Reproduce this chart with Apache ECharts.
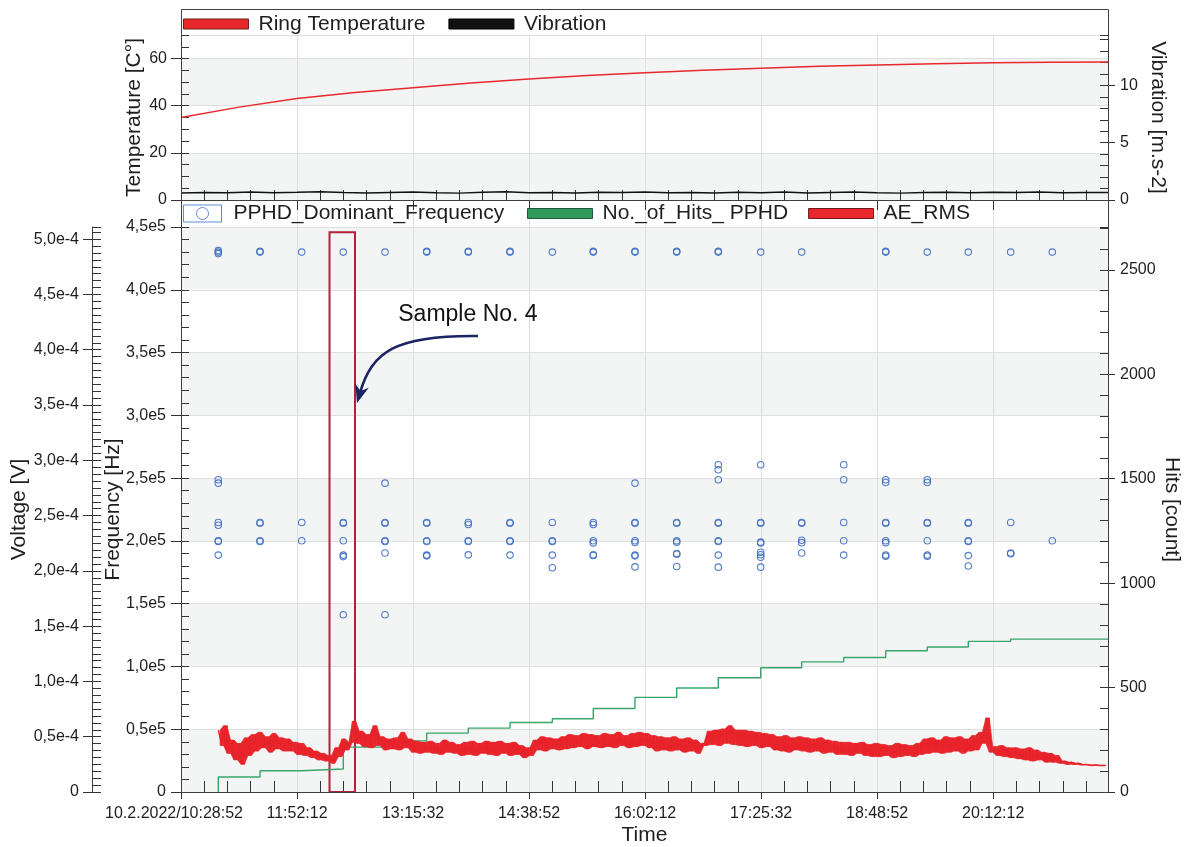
<!DOCTYPE html>
<html>
<head>
<meta charset="utf-8">
<script src="https://cdn.jsdelivr.net/npm/echarts@6/dist/echarts.min.js"></script>
<style>
html, body { margin: 0; padding: 0; background: #ffffff; }
#chart { width: 1190px; height: 847px; }
</style>
</head>
<body>
<div id="chart"></div>
<script>
// ---- data (time in seconds after 10.2.2022 10:28:52) ----
const timeTickLabelStart = '10.2.2022/10:28:52';

const temperatureTime = [0, 2500, 5000, 7500, 10000, 12500, 15000, 17500, 20000, 22500, 25000, 27500, 30000, 32500, 35000, 37500, 39950];
const temperatureValues = [35.0, 39.4, 43.1, 45.6, 47.6, 49.6, 51.3, 52.8, 54.0, 55.0, 55.9, 56.7, 57.3, 57.8, 58.2, 58.4, 58.5];

const vibrationTime = [0, 1000, 2000, 3000, 4000, 5000, 6000, 7000, 8000, 9000, 10000, 11000, 12000, 13000, 14000, 15000, 16000, 17000, 18000, 19000, 20000,
  21000, 22000, 23000, 24000, 25000, 26000, 27000, 28000, 29000, 30000, 31000, 32000, 33000, 34000, 35000, 36000, 37000, 38000, 39000, 39950];
const vibrationValues = [0.62, 0.66, 0.64, 0.70, 0.63, 0.67, 0.72, 0.65, 0.61, 0.66, 0.69, 0.64, 0.60, 0.67, 0.71, 0.63, 0.66, 0.62, 0.68, 0.65, 0.70,
  0.63, 0.66, 0.61, 0.67, 0.64, 0.69, 0.62, 0.66, 0.70, 0.64, 0.60, 0.66, 0.68, 0.63, 0.67, 0.65, 0.69, 0.64, 0.66, 0.65];

// PPHD dominant frequency: one column of hits per acquisition time
const freqColumnTime = [1607, 3405, 5202, 6994, 8792, 10589, 12381, 14179, 16002, 17768, 19565, 21363, 23155, 24983, 26750, 28560, 30370, 32162, 33929, 35756, 37549];
const freqColumnValues = [
  [430000, 431200, 428800, 248700, 246000, 214700, 212500, 200100, 199600, 188700],
  [430000, 430600, 214700, 214100, 200100, 199500],
  [430000, 214700, 200100],
  [430000, 214700, 214100, 200100, 188700, 187500, 141200],
  [430000, 246000, 214700, 214100, 200100, 199500, 190300, 141200],
  [430000, 430600, 214700, 214100, 200100, 199500, 188700, 188100],
  [430000, 430600, 214700, 213000, 200100, 199500, 188900],
  [430000, 430600, 214700, 214100, 200100, 199500, 188700],
  [430000, 214700, 200100, 199500, 188700, 178600],
  [430000, 430600, 214700, 213000, 200100, 198400, 189000, 188400],
  [430000, 430600, 246000, 214700, 214100, 200100, 198700, 188700, 188100, 179300],
  [430000, 430600, 214700, 214100, 200100, 199000, 190000, 189400, 179600],
  [430000, 430600, 260600, 256600, 248700, 214700, 214100, 200100, 199500, 188700, 179100],
  [430000, 260600, 214700, 214100, 199000, 198400, 191000, 189000, 187000, 179100],
  [430000, 214700, 214100, 200500, 198600, 190300],
  [260600, 248700, 214700, 200100, 188700],
  [430000, 430600, 248700, 246500, 214700, 214100, 200100, 198600, 188700, 187800],
  [430000, 248700, 246500, 214700, 214100, 200100, 188700, 187800],
  [430000, 214700, 214100, 200100, 199500, 188300, 180000],
  [430000, 214700, 190300, 189700],
  [430000, 200100]
];

// cumulative number of PPHD hits
const hitsTime = [1607, 1607, 3405, 5202, 6994, 8792, 10589, 12381, 14179, 16002, 17768, 19565, 21363, 23155, 24983, 26750, 28560, 30370, 32162, 33929, 35756, 39950];
const hitsCount = [0, 72, 102, 110, 215, 245, 282, 306, 333, 351, 400, 453, 498, 547, 595, 623, 644, 676, 694, 721, 732, 732];

// AE RMS in microvolts, sampled every aeStep seconds from aeStart
const aeStart = 1610;
const aeStep = 150;
const aeRmsMicroVolt = [
  56, 42, 60, 35, 47, 29, 44, 25, 49, 33,
  52, 37, 54, 40, 50, 36, 53, 39, 49, 37,
  48, 37, 45, 34, 44, 33, 40, 31, 37, 29,
  35, 28, 33, 26, 40, 32, 48, 38, 45, 64,
  44, 55, 41, 52, 40, 60, 42, 50, 38, 48,
  39, 49, 38, 54, 40, 48, 36, 46, 35, 45,
  36, 46, 35, 44, 34, 47, 36, 45, 35, 43,
  33, 45, 34, 46, 33, 44, 35, 46, 34, 45,
  33, 46, 35, 44, 33, 45, 34, 42, 31, 40,
  33, 47, 38, 50, 37, 49, 39, 48, 38, 50,
  39, 52, 40, 51, 41, 53, 39, 52, 41, 51,
  40, 53, 41, 52, 40, 54, 42, 51, 40, 53,
  41, 54, 42, 53, 40, 51, 37, 50, 38, 49,
  37, 50, 38, 48, 36, 49, 37, 47, 35, 44,
  42, 55, 43, 56, 42, 57, 44, 60, 43, 56,
  42, 56, 41, 55, 42, 54, 40, 53, 41, 52,
  38, 50, 37, 51, 36, 49, 38, 50, 37, 49,
  36, 48, 37, 49, 35, 47, 36, 46, 34, 45,
  34, 45, 33, 44, 35, 45, 33, 43, 32, 44,
  32, 43, 33, 42, 31, 44, 32, 43, 33, 42,
  32, 44, 34, 48, 35, 49, 36, 47, 35, 50,
  36, 49, 37, 50, 35, 48, 37, 51, 38, 54,
  44, 67, 36, 41, 33, 42, 32, 40, 31, 40,
  30, 39, 29, 40, 28, 38, 29, 36, 27, 35,
  27, 33, 26, 28, 25, 27, 25, 26, 24.5, 25,
  24.5, 24, 24.5, 24, 24, 24
];

// highlighted sample and its callout (time, Hz)
const sampleWindow = { from: 6400, to: 7499, top: 445800 };
const sampleLabel = { text: 'Sample No. 4', at: [9364, 379900] };
const sampleArrow = [[12800, 363200], [9222, 364000], [8231, 350500], [7585, 309800]];

// ---- layout ----
const FONT = '"Liberation Sans", Arial, Helvetica, sans-serif';
const AXIS = '#404040';
const TXT = '#1e1e1e';
const SPLIT = '#dfdfdf';
const BANDS = ['#f3f5f5', '#ffffff'];
const RED = '#e8232a';
const NAVY = '#1b2363';
const L = 181, W = 927, R = 1190 - L - W;
const FRAME_TOP = 9, TOP_GRID = 35, MID = 200, DATA_TOP = 227, BOTTOM = 792;
const T_MAX = 39950;

const clockBase = 10 * 3600 + 28 * 60 + 52;
const pad = n => String(n).padStart(2, '0');
function clockLabel(t) {
  if (t === 0) return '{first|' + timeTickLabelStart + '}';
  const s = clockBase + t;
  return pad(Math.floor(s / 3600) % 24) + ':' + pad(Math.floor((s % 3600) / 60)) + ':' + pad(s % 60);
}
const comma = (v, d) => v.toFixed(d).replace('.', ',');

const temperatureData = temperatureTime.map((t, i) => [t, temperatureValues[i]]);
const vibrationData = vibrationTime.map((t, i) => [t, vibrationValues[i]]);
const freqData = [];
freqColumnTime.forEach((t, i) => freqColumnValues[i].forEach(f => freqData.push([t, f])));
const hitsData = hitsTime.map((t, i) => [t, hitsCount[i]]);
const aeData = aeRmsMicroVolt.map((v, i) => [aeStart + i * aeStep, v]);
// dense core of the AE noise: low/high of each neighbouring pair of samples, joined as quads
const aeCore = [];
for (let i = 0; i < aeRmsMicroVolt.length - 1; i++) {
  const lo = Math.min(aeRmsMicroVolt[i], aeRmsMicroVolt[i + 1]);
  const hi = Math.max(aeRmsMicroVolt[i], aeRmsMicroVolt[i + 1]);
  aeCore.push([aeStart + (i + 0.5) * aeStep, lo, hi]);
}
const aeBand = [];
for (let i = 0; i < aeCore.length - 1; i++) aeBand.push(aeCore[i].concat(aeCore[i + 1]));

const tickStyle = { color: '#333333', width: 1 };
const labelStyle = { color: TXT, fontSize: 16, fontFamily: FONT };
const nameStyle = { color: TXT, fontSize: 21, fontFamily: FONT };
const legendText = { color: TXT, fontSize: 21, fontFamily: FONT, padding: [0, 0, 0, 5] };

function ghostX(gridIndex, len) {
  return { type: 'value', gridIndex, position: 'bottom', min: 0, max: T_MAX, interval: 1000,
    axisLine: { show: false, onZero: false }, axisLabel: { show: false }, splitLine: { show: false },
    axisTick: { show: true, inside: true, length: len, lineStyle: tickStyle } };
}
function ghostY(gridIndex, position, max, interval, len, offset) {
  return { type: 'value', gridIndex, position, offset: offset || 0, min: 0, max, interval,
    axisLine: { show: false }, axisLabel: { show: false }, splitLine: { show: false },
    axisTick: { show: true, inside: true, length: len, lineStyle: tickStyle } };
}
function vName(name, rotate, gap) {
  return { name, nameLocation: 'middle', nameRotate: rotate, nameGap: gap, nameMoveOverlap: false, nameTextStyle: nameStyle };
}

const option = {
  animation: false,
  backgroundColor: '#ffffff',
  textStyle: { fontFamily: FONT },
  grid: [
    { left: L, right: R, top: TOP_GRID, height: MID - TOP_GRID, outerBoundsMode: 'none' },
    { left: L, right: R, top: MID, height: BOTTOM - MID, outerBoundsMode: 'none' },
    { left: L, right: R, top: DATA_TOP, height: BOTTOM - DATA_TOP, outerBoundsMode: 'none' }
  ],
  xAxis: [
    { type: 'value', gridIndex: 0, position: 'bottom', min: 0, max: T_MAX, interval: 5000, z: 1,
      axisLine: { show: false, onZero: false }, axisLabel: { show: false },
      axisTick: { show: true, length: 10, lineStyle: tickStyle },
      splitLine: { show: true, lineStyle: { color: SPLIT } } },
    ghostX(0, 10),
    Object.assign({ type: 'value', gridIndex: 1, position: 'bottom', min: 0, max: T_MAX, interval: 5000, z: 1,
      axisLine: { show: false, onZero: false },
      axisTick: { show: true, length: 7, lineStyle: tickStyle },
      axisLabel: Object.assign({ margin: 14, showMaxLabel: false, formatter: clockLabel,
        rich: { first: { fontSize: 16, fontFamily: FONT, color: TXT, padding: [0, 14, 0, 0] } } }, labelStyle),
      splitLine: { show: true, lineStyle: { color: SPLIT } } }, vName('Time', 0, 33)),
    ghostX(2, 11)
  ],
  yAxis: [
    Object.assign({ type: 'value', gridIndex: 0, position: 'left', min: 0, max: 70, interval: 20,
      axisLine: { show: false },
      axisTick: { show: true, length: 10, lineStyle: tickStyle },
      axisLabel: Object.assign({ margin: 14, showMaxLabel: false }, labelStyle),
      splitLine: { show: true, lineStyle: { color: SPLIT } },
      splitArea: { show: true, areaStyle: { color: BANDS } } }, vName('Temperature [C°]', 90, 36)),
    ghostY(0, 'left', 70, 5, 8),
    Object.assign({ type: 'value', gridIndex: 0, position: 'right', min: 0, max: 14.4, interval: 5,
      axisLine: { show: false },
      axisTick: { show: true, length: 7, lineStyle: tickStyle },
      axisLabel: Object.assign({ margin: 12, showMaxLabel: false }, labelStyle),
      splitLine: { show: false } }, vName('Vibration [m.s-2]', -90, 39)),
    ghostY(0, 'right', 14.4, 1, 8),
    { type: 'value', gridIndex: 1, show: false, min: 0, max: 1 },
    Object.assign({ type: 'value', gridIndex: 2, position: 'left', min: 0, max: 450000, interval: 50000,
      axisLine: { show: false },
      axisTick: { show: true, length: 10, lineStyle: tickStyle },
      axisLabel: Object.assign({ margin: 15, formatter: v => v === 0 ? '0' : comma(v / 1e5, 1) + 'e5' }, labelStyle),
      splitLine: { show: true, lineStyle: { color: SPLIT } },
      splitArea: { show: true, areaStyle: { color: BANDS } } }, vName('Frequency [Hz]', 90, 57)),
    ghostY(2, 'left', 450000, 10000, 8),
    Object.assign({ type: 'value', gridIndex: 2, position: 'right', min: 0, max: 2705, interval: 500,
      axisLine: { show: false },
      axisTick: { show: true, length: 7, lineStyle: tickStyle },
      axisLabel: Object.assign({ margin: 12, showMaxLabel: false, formatter: v => String(v) }, labelStyle),
      splitLine: { show: false } }, vName('Hits [count]', -90, 53)),
    ghostY(2, 'right', 2705, 100, 8),
    Object.assign({ type: 'value', gridIndex: 2, position: 'left', offset: 89, min: 0, max: 511, interval: 50,
      axisLine: { show: true, onZero: false, lineStyle: { color: AXIS, width: 1 } },
      axisTick: { show: true, length: 9, lineStyle: tickStyle },
      axisLabel: Object.assign({ margin: 13, showMaxLabel: false, formatter: v => v === 0 ? '0' : comma(v / 100, 1) + 'e-4' }, labelStyle),
      splitLine: { show: false } }, vName('Voltage [V]', 90, 62)),
    ghostY(2, 'left', 511, 6.25, 9, 89)
  ],
  legend: [
    { left: 183, top: 13.5, padding: 0, itemWidth: 65, itemHeight: 10, itemGap: 23, selectedMode: false,
      textStyle: legendText,
      data: [
        { name: 'Ring Temperature', icon: 'rect', itemStyle: { color: '#e8282c', borderColor: '#6a1c1c', borderWidth: 1 } },
        { name: 'Vibration', icon: 'rect', itemStyle: { color: '#111111', borderColor: '#000000', borderWidth: 1 } }
      ] },
    { left: 183, top: 203, padding: 0, itemWidth: 38, itemHeight: 17, selectedMode: false,
      textStyle: Object.assign({}, legendText, { padding: [0, 0, 0, 7] }),
      data: [
        { name: 'PPHD_Dominant_Frequency', icon: 'path://M0,0H38V17H0Z M25,8.5A6,6 0 1 1 13,8.5A6,6 0 1 1 25,8.5Z',
          itemStyle: { color: '#ffffff', borderColor: '#4d7fcf', borderWidth: 1 } }
      ] },
    { left: 527, top: 203, padding: 0, itemWidth: 65, itemHeight: 10, itemGap: 20, selectedMode: false,
      textStyle: legendText,
      data: [
        { name: 'No._of_Hits_ PPHD', icon: 'rect', itemStyle: { color: '#2f9a5c', borderColor: '#1c5a36', borderWidth: 1 } },
        { name: 'AE_RMS', icon: 'rect', itemStyle: { color: '#e8282c', borderColor: '#6a1c1c', borderWidth: 1 } }
      ] }
  ],
  series: [
    { name: 'Ring Temperature', type: 'line', xAxisIndex: 0, yAxisIndex: 0, data: temperatureData,
      showSymbol: false, color: '#e8282c', lineStyle: { color: '#e8282c', width: 1.5 }, z: 3 },
    { name: 'Vibration', type: 'line', xAxisIndex: 0, yAxisIndex: 2, data: vibrationData,
      showSymbol: false, color: '#111111', lineStyle: { color: '#111111', width: 1.5 }, z: 3 },
    { name: 'No._of_Hits_ PPHD', type: 'line', step: 'end', xAxisIndex: 3, yAxisIndex: 7, data: hitsData,
      showSymbol: false, color: '#3aa56a', lineStyle: { color: '#3aa56a', width: 1.4 }, z: 2 },
    { name: 'aeNoiseCore', type: 'custom', xAxisIndex: 3, yAxisIndex: 9, data: aeBand, silent: true, z: 3, clip: true,
      encode: { x: [0, 3], y: [1, 2, 4, 5] },
      renderItem: (params, api) => {
        const p0l = api.coord([api.value(0), api.value(1)]);
        const p0h = api.coord([api.value(0), api.value(2)]);
        const p1l = api.coord([api.value(3), api.value(4)]);
        const p1h = api.coord([api.value(3), api.value(5)]);
        return { type: 'polygon', shape: { points: [p0l, p1l, p1h, p0h] },
          style: { fill: RED, stroke: RED, lineWidth: 0.6 } };
      } },
    { name: 'AE_RMS', type: 'line', xAxisIndex: 3, yAxisIndex: 9, data: aeData,
      showSymbol: false, color: '#e8282c', lineStyle: { color: RED, width: 1.4 }, z: 3 },
    { name: 'PPHD_Dominant_Frequency', type: 'scatter', xAxisIndex: 3, yAxisIndex: 5, data: freqData,
      symbol: 'circle', symbolSize: 6.5, z: 4,
      itemStyle: { color: 'rgba(255,255,255,0)', borderColor: '#3f6fc4', borderWidth: 1.1, opacity: 0.9 },
      markArea: { silent: true,
        itemStyle: { color: 'rgba(0,0,0,0)', borderColor: '#b0213a', borderWidth: 2 },
        data: [[{ coord: [sampleWindow.from, 0] }, { coord: [sampleWindow.to, sampleWindow.top] }]] },
      markPoint: { silent: true, symbol: 'circle', symbolSize: 0,
        itemStyle: { color: 'rgba(0,0,0,0)' },
        label: { show: true, position: 'right', distance: 0, formatter: sampleLabel.text,
          color: '#111111', fontSize: 23, fontFamily: FONT },
        data: [{ coord: sampleLabel.at }] } }
  ]
};

const chart = echarts.init(document.getElementById('chart'), null, { renderer: 'canvas' });
chart.setOption(option);

// panel frames and the curved callout arrow (arrow placed in data coordinates)
const px = p => chart.convertToPixel({ xAxisIndex: 3, yAxisIndex: 5 }, p);
const [a0, a1, a2, a3] = sampleArrow.map(px);
const dx = a3[0] - a2[0], dy = a3[1] - a2[1], dl = Math.hypot(dx, dy);
const ux = dx / dl, uy = dy / dl, headLen = 18, headHalf = 7;
const base = [a3[0] - ux * headLen, a3[1] - uy * headLen];
chart.setOption({
  graphic: [
    { type: 'rect', silent: true, z: 100,
      shape: { x: L + 0.5, y: FRAME_TOP + 0.5, width: W, height: MID - FRAME_TOP },
      style: { fill: 'none', stroke: AXIS, lineWidth: 1 } },
    { type: 'rect', silent: true, z: 100,
      shape: { x: L + 0.5, y: MID + 0.5, width: W, height: BOTTOM - MID },
      style: { fill: 'none', stroke: AXIS, lineWidth: 1 } },
    { type: 'bezierCurve', silent: true, z: 50,
      shape: { x1: a0[0], y1: a0[1], cpx1: a1[0], cpy1: a1[1], cpx2: a2[0], cpy2: a2[1],
        x2: a3[0] - ux * headLen * 0.6, y2: a3[1] - uy * headLen * 0.6 },
      style: { fill: 'none', stroke: NAVY, lineWidth: 2.6 } },
    { type: 'polygon', silent: true, z: 50,
      shape: { points: [a3,
        [base[0] - uy * headHalf, base[1] + ux * headHalf],
        [a3[0] - ux * headLen * 0.7, a3[1] - uy * headLen * 0.7],
        [base[0] + uy * headHalf, base[1] - ux * headHalf]] },
      style: { fill: NAVY } }
  ]
});
</script>
</body>
</html>
